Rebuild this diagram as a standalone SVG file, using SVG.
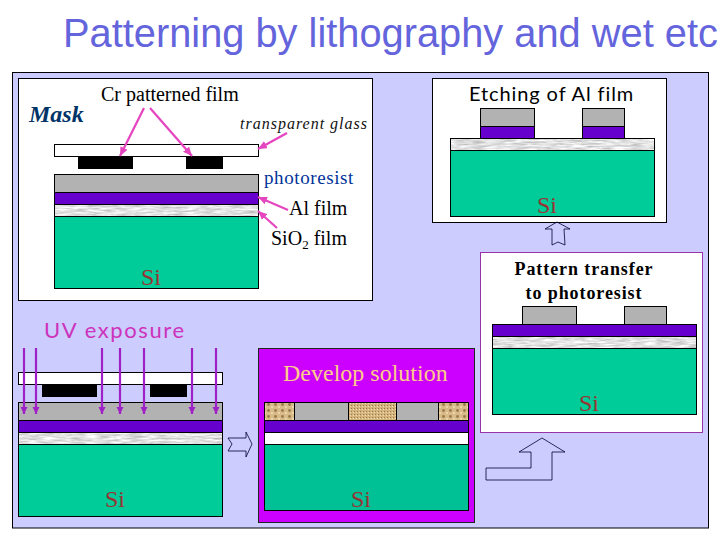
<svg xmlns="http://www.w3.org/2000/svg" width="720" height="540" viewBox="0 0 720 540">
<style>
.st{stroke:#000;stroke-width:1}
.res{fill:#b2b2b2}.al{fill:#6600cc}.si{fill:#00cc99}.gl{fill:#fff}.cr{fill:#000}
.sio{fill:#e4e4e4;filter:url(#noise)}
.ol{fill:none;stroke:#000;stroke-width:1}
.ser{font-family:"Liberation Serif",serif}
.sans{font-family:"Lato","Open Sans",sans-serif}
.siT{font-family:"Liberation Serif",serif;font-size:24px;fill:#993333}
.blk{font-family:"Liberation Serif",serif;font-size:20px;fill:#000}
.arw{stroke:#e645c0;stroke-width:2.2;fill:none;marker-end:url(#pk)}
.uv{stroke:#a020c8;stroke-width:2.2;fill:none;marker-end:url(#uvh)}
.blk-arrow{fill:none;stroke:#000033;stroke-width:.8}
</style>
<defs>
<filter id="noise" x="0" y="0" width="1" height="1" color-interpolation-filters="sRGB">
<feTurbulence type="fractalNoise" baseFrequency="0.07 0.55" numOctaves="3" seed="4"/>
<feColorMatrix type="matrix" values=".45 0 0 0 .66  .45 0 0 0 .66  .45 0 0 0 .66  0 0 0 0 1"/>
</filter>
<marker id="pk" markerUnits="userSpaceOnUse" markerWidth="10" markerHeight="8" refX="9" refY="4" orient="auto"><path d="M0 0L9 4L0 8Z" fill="#e645c0"/></marker>
<marker id="uvh" markerUnits="userSpaceOnUse" markerWidth="8" markerHeight="8" refX="7" refY="3.500" orient="auto"><path d="M0 0L7 3.500L0 7Z" fill="#a020c8"/></marker>
<pattern id="tex1" patternUnits="userSpaceOnUse" width="7" height="6">
<rect width="7" height="6" fill="#d8bb88"/>
<circle cx="2.500" cy="2.500" r="1.400" fill="#9a7a4a"/><circle cx="6" cy="5" r="1" fill="#f0e0b8"/>
</pattern>
<pattern id="tex2" patternUnits="userSpaceOnUse" width="3" height="3">
<rect width="3" height="3" fill="#d4b47c"/>
<rect width="1" height="1" fill="#9a7a4a"/><rect x="2" y="1" width="1" height="1" fill="#f0e0b8"/>
</pattern>
</defs>
<rect width="720" height="540" fill="#fff"/>
<text id="title" x="63" y="47" font-family="Liberation Sans, sans-serif" font-size="39.800" fill="#6464dc">Patterning by lithography and wet etc</text>
<rect id="panel" x="12.500" y="72.500" width="696" height="455.500" fill="#ccccff" stroke="#000" stroke-width="1"/>

<g id="mask">
<rect x="18.500" y="78.500" width="354" height="222" fill="#fff" stroke="#000"/>
<rect class="gl st" x="54.500" y="144.500" width="204" height="12"/>
<rect class="cr" x="78" y="157" width="55" height="12"/>
<rect class="cr" x="186" y="157" width="37" height="12"/>
<rect class="res st" x="54.500" y="174.500" width="204" height="18"/>
<rect class="al st" x="54.500" y="192.500" width="204" height="12"/>
<rect class="sio" x="54.500" y="204.500" width="204" height="12"/><rect class="ol" x="54.500" y="204.500" width="204" height="12"/>
<rect class="si st" x="54.500" y="216.500" width="204" height="72"/>
<text x="29" y="122" font-family="Liberation Serif,serif" font-size="24" font-weight="bold" font-style="italic" fill="#003366">Mask</text>
<text class="blk" x="101" y="101">Cr patterned film</text>
<text x="240" y="129" class="ser" font-size="16" font-style="italic" letter-spacing="1" fill="#111">transparent glass</text>
<text x="264" y="184" class="ser" font-size="19" letter-spacing="0.6" fill="#003399">photoresist</text>
<text class="blk" x="289" y="215">Al film</text>
<text class="blk" x="271" y="245">SiO<tspan font-size="13" dy="4">2</tspan><tspan dy="-4"> film</tspan></text>
<text class="siT" x="141" y="285">Si</text>
</g>

<g id="etching">
<rect x="432.500" y="78.500" width="234" height="144" fill="#fff" stroke="#000"/>
<rect class="res st" x="480.500" y="108.500" width="54" height="18"/>
<rect class="al st" x="480.500" y="126.500" width="54" height="12"/>
<rect class="res st" x="582.500" y="108.500" width="42" height="18"/>
<rect class="al st" x="582.500" y="126.500" width="42" height="12"/>
<rect class="sio" x="450.500" y="138.500" width="204" height="12"/><rect class="ol" x="450.500" y="138.500" width="204" height="12"/>
<rect class="si st" x="450.500" y="150.500" width="204" height="66"/>
<text x="469" y="101" class="sans" font-size="20" letter-spacing="0.9" fill="#000">Etching of Al film</text>
<text class="siT" x="537" y="213">Si</text>
</g>

<g id="transfer">
<rect x="480.500" y="252.500" width="222" height="180" fill="#fff" stroke="#9933aa" stroke-width="1"/>
<rect class="res st" x="522.500" y="306.500" width="54" height="18"/>
<rect class="res st" x="624.500" y="306.500" width="42" height="18"/>
<rect class="al st" x="492.500" y="324.500" width="204" height="12"/>
<rect class="sio" x="492.500" y="336.500" width="204" height="12"/><rect class="ol" x="492.500" y="336.500" width="204" height="12"/>
<rect class="si st" x="492.500" y="348.500" width="204" height="66"/>
<text x="584" y="275" text-anchor="middle" class="ser" font-size="18" font-weight="bold" letter-spacing="0.9" fill="#000">Pattern transfer</text>
<text x="584" y="299" text-anchor="middle" class="ser" font-size="18" font-weight="bold" letter-spacing="0.9" fill="#000">to photoresist</text>
<text class="siT" x="579" y="411">Si</text>
</g>

<g id="uvexposure">
<rect class="gl st" x="18.500" y="372.500" width="204" height="12"/>
<rect class="cr" x="42" y="385" width="55" height="12"/>
<rect class="cr" x="150" y="385" width="37" height="12"/>
<rect class="res st" x="18.500" y="402.500" width="204" height="18"/>
<rect class="al st" x="18.500" y="420.500" width="204" height="12"/>
<rect class="sio" x="18.500" y="432.500" width="204" height="12"/><rect class="ol" x="18.500" y="432.500" width="204" height="12"/>
<rect class="si st" x="18.500" y="444.500" width="204" height="72"/>
<text x="44" y="338" class="sans" font-size="22" letter-spacing="1.6" fill="#cc33bb">UV exposure</text>
<text class="siT" x="105" y="507">Si</text>
</g>

<g id="develop">
<rect x="258.500" y="348.500" width="216" height="174" fill="#cc00ff" stroke="#222"/>
<rect class="res st" x="264.500" y="402.500" width="204" height="18"/>
<rect x="264.500" y="402.500" width="30" height="18" fill="url(#tex1)" class="st"/>
<rect x="348.500" y="402.500" width="48" height="18" fill="url(#tex2)" class="st"/>
<rect x="438.500" y="402.500" width="30" height="18" fill="url(#tex1)" class="st"/>
<rect class="al st" x="264.500" y="420.500" width="204" height="12"/>
<rect class="gl st" x="264.500" y="432.500" width="204" height="12"/>
<rect x="264.500" y="444.500" width="204" height="66" fill="#00c096" stroke="#000"/>
<text x="283" y="381" class="ser" font-size="24" fill="#ffcc88">Develop solution</text>
<text class="siT" x="351" y="507">Si</text>
</g>

<g id="connectors">
<path class="arw" d="M144 108L120 156"/>
<path class="arw" d="M150 108L192 156"/>
<path class="arw" d="M287 133L258 149"/>
<path class="arw" d="M288 210L258 197"/>
<path class="arw" d="M277 228L258 211"/>
<path class="uv" d="M24 348V414"/>
<path class="uv" d="M36 348V414"/>
<path class="uv" d="M102 348V414"/>
<path class="uv" d="M120 348V414"/>
<path class="uv" d="M144 348V414"/>
<path class="uv" d="M192 348V414"/>
<path class="uv" d="M216 348V414"/>
<path class="blk-arrow" d="M552 245L552 229L545 229L557 222L570 229L564 229L565 245L558 242Z"/>
<path class="blk-arrow" d="M228 438H246V432L252 444L246 457V451H228L232 444Z"/>
<path class="blk-arrow" d="M486 468H531V452H519L542 438L565 452H552V480H486Z"/>
</g>
</svg>
